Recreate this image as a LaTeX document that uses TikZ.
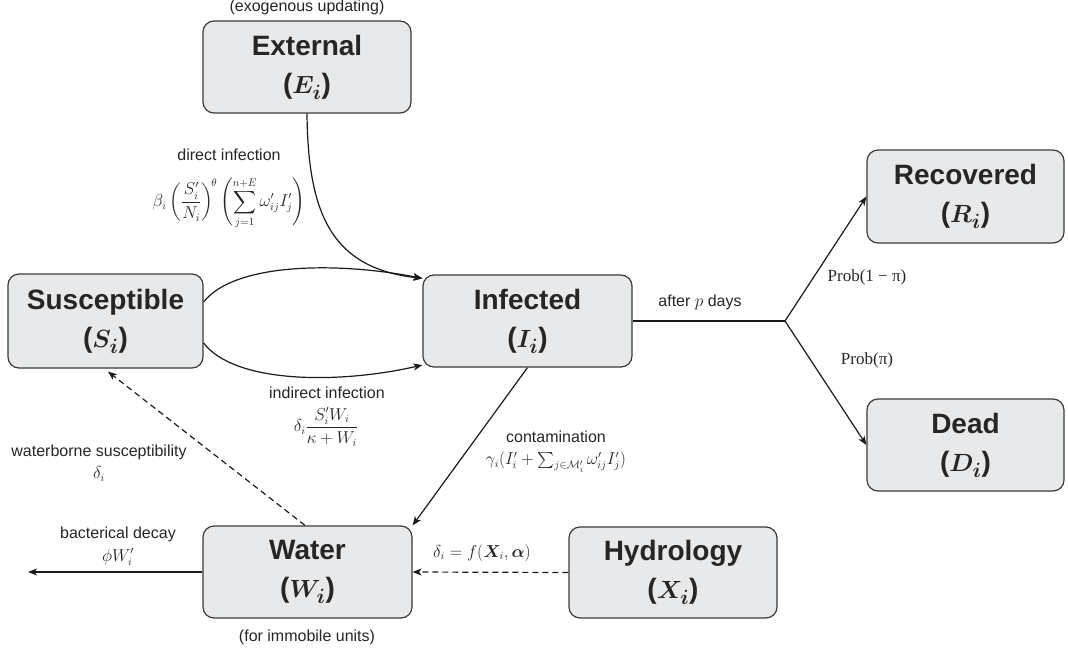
\documentclass[tikz,border=0pt]{standalone}
\usepackage{amsmath,amssymb}
\usepackage{bm}
\usepackage{fontspec}
\setmainfont{Liberation Sans}
\newfontfamily\serifp{Liberation Serif}
\usetikzlibrary{arrows.meta,calc}
\definecolor{boxfill}{HTML}{E8E9EB}
\definecolor{boxline}{HTML}{3A3A3A}
\definecolor{txt}{HTML}{262626}
\definecolor{ln}{HTML}{1A1A1A}
\tikzset{
  comp/.style={draw=boxline, line width=1.2pt, fill=boxfill, rounded corners=11pt,
    inner sep=0pt, align=center, text=txt,
    font=\fontsize{28}{38}\selectfont\bfseries},
  lbl/.style={text=txt, font=\fontsize{16}{19}\selectfont, inner sep=0pt, align=center},
  flow/.style={draw=ln, line width=1.2pt, -{Stealth[length=9pt,width=7pt,inset=2.5pt]}},
  plain/.style={draw=ln, line width=1.2pt},
  dflow/.style={flow, dash pattern=on 6pt off 4pt},
}
\begin{document}
\begin{tikzpicture}[x=1pt,y=-1pt]
\useasboundingbox (0,0) rectangle (1068,651);
% components
\node[comp, minimum width=208pt, minimum height=92pt] (E) at (307,67) {External\\($\bm{E_i}$)};
\node[comp, minimum width=195pt, minimum height=94pt] (S) at (105.5,321) {Susceptible\\($\bm{S_i}$)};
\node[comp, minimum width=209pt, minimum height=92pt] (I) at (527.5,321) {Infected\\($\bm{I_i}$)};
\node[comp, minimum width=197pt, minimum height=93pt] (R) at (965.5,196.5) {Recovered\\($\bm{R_i}$)};
\node[comp, minimum width=197pt, minimum height=92pt] (D) at (965.5,445) {Dead\\($\bm{D_i}$)};
\node[comp, minimum width=209pt, minimum height=92pt] (W) at (307.5,572) {Water\\($\bm{W_i}$)};
\node[comp, minimum width=208pt, minimum height=91pt] (H) at (673,572.5) {Hydrology\\($\bm{X_i}$)};
% free ends
\coordinate (B) at (785,321);
\coordinate (Dec) at (28,572);
% connectors
\draw[flow] (E.south) .. controls (308,215) and (332,268) .. ([yshift=-4pt]I.north west);
\draw[flow] ([yshift=19pt]S.east) .. controls (235,262) and (340,262) .. ([yshift=-4pt]I.north west);
\draw[flow] ([yshift=-22pt]S.east) .. controls (235,384) and (340,384) .. ([yshift=-44pt]I.west);
\draw[flow] (I.south) -- (W.north east);
\draw[plain] (I.east) -- (B);
\draw[flow] (B) -- (R.west);
\draw[flow] (B) -- (D.west);
\draw[dflow] ([xshift=-2.5pt]W.north) -- ([xshift=2.5pt,yshift=-3pt]S.south);
\draw[dflow] (H.west) -- (W.east);
\draw[flow] (W.west) -- (Dec);
% labels
\node[lbl] (l1) at (307,7) {(exogenous updating)};
\node[lbl] (l2) at (229,155) {direct infection};
\node[lbl] (l3) at (229,203) {$\displaystyle \beta_i\left(\frac{S'_i}{N_i}\right)^{\!\theta}\left(\sum_{j=1}^{n+E}\omega'_{ij}I'_j\right)$};
\node[lbl] (l4) at (327,393) {indirect infection};
\node[lbl] (l5) at (326,427) {$\displaystyle \delta_i\frac{S'_iW_i}{\kappa+W_i}$};
\node[lbl] (l6) at (556,437) {contamination};
\node[lbl] (l7) at (556,462) {$\gamma_i(I'_i+\sum_{j\in\mathcal{M}'_i}\omega'_{ij}I'_j)$};
\node[lbl] (l8) at (700,302) {after $p$ days};
\node[lbl, font=\fontsize{17}{20}\selectfont\serifp] (l9) at (867,277) {Prob(1 − π)};
\node[lbl, font=\fontsize{17}{20}\selectfont\serifp] (l10) at (867,360) {Prob(π)};
\node[lbl] (l11) at (99,452) {waterborne susceptibility};
\node[lbl] (l12) at (99,474) {$\delta_i$};
\node[lbl] (l13) at (118,534) {bacterical decay};
\node[lbl] (l14) at (118,557) {$\phi W'_i$};
\node[lbl] (l15) at (482,553) {$\delta_i=f(\bm{X}_i,\bm{\alpha})$};
\node[lbl] (l16) at (307,637) {(for immobile units)};
\end{tikzpicture}
\end{document}
